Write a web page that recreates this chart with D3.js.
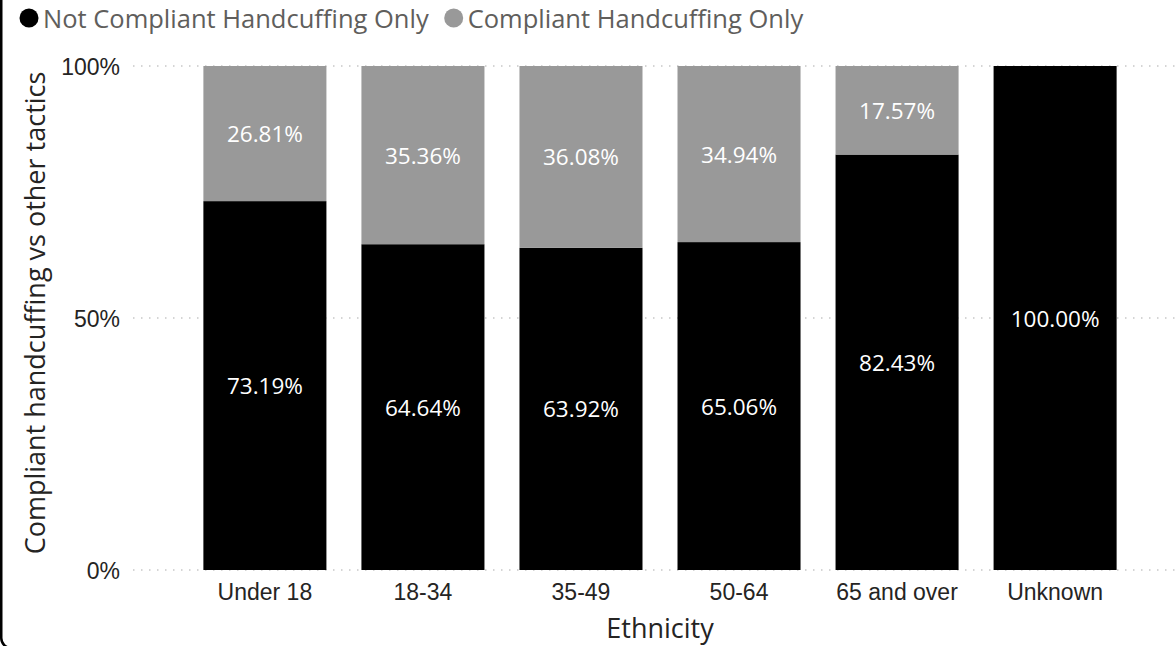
<!DOCTYPE html>
<html>
<head>
<meta charset="utf-8">
<script src="https://cdn.jsdelivr.net/npm/d3@7"></script>
<style>
  html, body { margin: 0; padding: 0; background: #fff; }
  svg { display: block; font-family: "Segoe UI", "Open Sans", "Noto Sans", sans-serif; }
</style>
</head>
<body>
<svg id="chart" width="1176" height="646"></svg>
<script>
const categories = ["Under 18", "18-34", "35-49", "50-64", "65 and over", "Unknown"];
const seriesNames = ["Not Compliant Handcuffing Only", "Compliant Handcuffing Only"];
const notCompliant = [73.19, 64.64, 63.92, 65.06, 82.43, 100.00];
const compliant = [26.81, 35.36, 36.08, 34.94, 17.57, 0];
const yTicks = [0, 50, 100];
const colors = ["#000000", "#999999"];

const svg = d3.select("#chart");
const W = 1176, H = 646;

// frame
svg.append("rect").attr("x", 1.25).attr("y", -20).attr("width", W + 40).attr("height", H + 22)
  .attr("rx", 10).attr("fill", "none").attr("stroke", "#000").attr("stroke-width", 2.5);

const x = d3.scaleBand().domain(categories).range([186, 1134]).paddingInner(0.2215).paddingOuter(0.11);
const y = d3.scaleLinear().domain([0, 100]).range([570, 66]);

// gridlines
svg.append("g").selectAll("line").data(yTicks).join("line")
  .attr("x1", 133).attr("x2", W).attr("y1", d => y(d)).attr("y2", d => y(d))
  .attr("stroke", "#c8c8c8").attr("stroke-width", 1.5).attr("stroke-dasharray", "1.5,6.5");

// y axis
const yAxis = svg.append("g").attr("transform", "translate(120,0)")
  .call(d3.axisLeft(y).tickValues(yTicks).tickFormat(d => d + "%").tickSize(0).tickPadding(0));
yAxis.select(".domain").remove();
yAxis.selectAll("text").attr("font-size", 23).attr("fill", "#252423").attr("font-family", null)
  .attr("dy", null).attr("dominant-baseline", "central");

// x axis
const xAxis = svg.append("g").attr("transform", "translate(0,570)")
  .call(d3.axisBottom(x).tickSize(0).tickPadding(0));
xAxis.select(".domain").remove();
xAxis.selectAll("text").attr("font-size", 23).attr("fill", "#252423").attr("font-family", null)
  .attr("dy", null).attr("y", 22).attr("dominant-baseline", "central");

// stacked data
const rows = categories.map((c, i) => ({ cat: c, a: notCompliant[i], b: compliant[i] }));
const stack = d3.stack().keys(["a", "b"])(rows);

const layers = svg.append("g").selectAll("g").data(stack).join("g")
  .attr("fill", (d, i) => colors[i]);
layers.selectAll("rect").data(d => d).join("rect")
  .attr("x", d => x(d.data.cat))
  .attr("width", x.bandwidth())
  .attr("y", d => y(d[1]))
  .attr("height", d => y(d[0]) - y(d[1]));

// labels
const labels = svg.append("g");
stack.forEach(layer => {
  labels.selectAll(null).data(layer.filter(d => d[1] - d[0] > 0)).join("text")
    .attr("x", d => x(d.data.cat) + x.bandwidth() / 2)
    .attr("y", d => (y(d[0]) + y(d[1])) / 2)
    .attr("text-anchor", "middle").attr("dominant-baseline", "central")
    .attr("font-size", 22.5).attr("fill", "#fff")
    .text(d => (d[1] - d[0]).toFixed(2) + "%");
});

// axis titles
svg.append("text").attr("x", (186 + 1134) / 2).attr("y", 627)
  .attr("text-anchor", "middle").attr("dominant-baseline", "central")
  .attr("font-size", 27).attr("fill", "#252423").text("Ethnicity");
svg.append("text").attr("transform", "translate(34,313) rotate(-90)")
  .attr("text-anchor", "middle").attr("dominant-baseline", "central")
  .attr("font-size", 27).attr("fill", "#252423").text("Compliant handcuffing vs other tactics");

// legend
let lx = 19;
seriesNames.forEach((name, i) => {
  svg.append("circle").attr("cx", lx + 10).attr("cy", 18).attr("r", 9.5).attr("fill", colors[i]);
  const t = svg.append("text").attr("x", lx + 24).attr("y", 18).attr("dominant-baseline", "central")
    .attr("font-size", 25.5).attr("fill", "#605e5c").text(name);
  lx += 24 + t.node().getComputedTextLength() + 15;
});
</script>
</body>
</html>
